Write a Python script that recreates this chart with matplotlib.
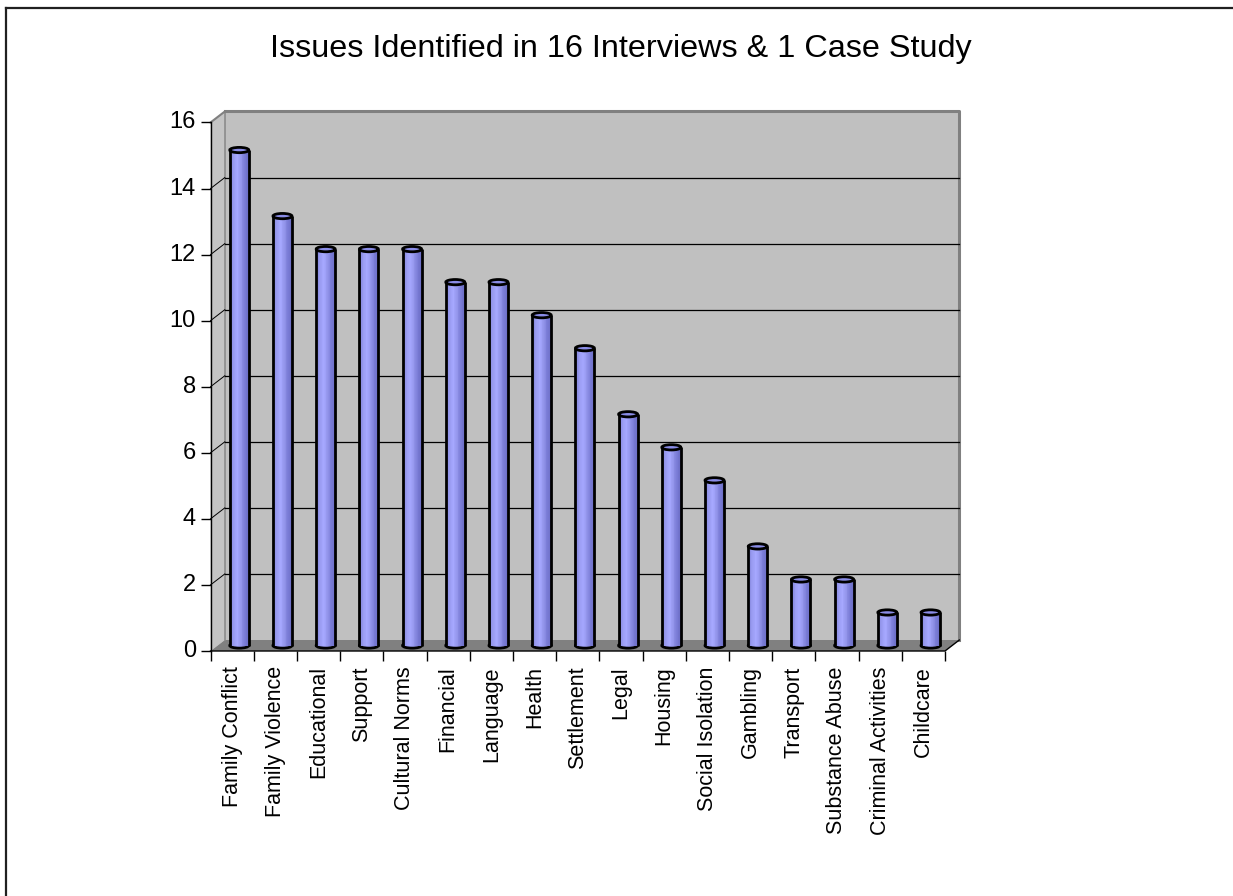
import matplotlib
matplotlib.use("Agg")
import matplotlib.pyplot as plt
import numpy as np
from matplotlib.patches import Polygon, Ellipse, Rectangle
from matplotlib.lines import Line2D
from matplotlib.colors import LinearSegmentedColormap

plt.rcParams['font.family'] = ['Liberation Sans', 'DejaVu Sans']

title = "Issues Identified in 16 Interviews & 1 Case Study"
categories = ["Family Conflict", "Family Violence", "Educational", "Support",
              "Cultural Norms", "Financial", "Language", "Health", "Settlement",
              "Legal", "Housing", "Social Isolation", "Gambling", "Transport",
              "Substance Abuse", "Criminal Activities", "Childcare"]
values = [15, 13, 12, 12, 12, 11, 11, 10, 9, 7, 6, 5, 3, 2, 2, 1, 1]
yticks = [0, 2, 4, 6, 8, 10, 12, 14, 16]

W, H = 1233, 896
fig = plt.figure(figsize=(W / 100, H / 100), dpi=100)
fig.patch.set_facecolor('white')

# front plot box in pixels
x0p, x1p = 210.5, 945.0
y0p, y1p = 651.0, 122.5
ax = fig.add_axes([x0p / W, 1 - y0p / H, (x1p - x0p) / W, (y0p - y1p) / H])
n = len(categories)
ymax = yticks[-1]
ax.set_xlim(0, n)
ax.set_ylim(0, ymax)
ax.axis('off')

# depth offset in data units
dx = 14.3 / ((x1p - x0p) / n)
dy = 11.0 / ((y0p - y1p) / ymax)

wall = '#c0c0c0'
edge = '#808080'
# back wall
ax.add_patch(Polygon([(dx, dy), (n + dx, dy), (n + dx, ymax + dy), (dx, ymax + dy)],
                     closed=True, fc=wall, ec='none', zorder=1, clip_on=False))
# left wall
ax.add_patch(Polygon([(0, 0), (dx, dy), (dx, ymax + dy), (0, ymax)],
                     closed=True, fc='#c4c4c4', ec='none', zorder=1, clip_on=False))
# floor
ax.add_patch(Polygon([(0, 0), (n, 0), (n + dx, dy), (dx, dy)],
                     closed=True, fc='#808080', ec='none', zorder=1.5, clip_on=False))
# wall edges
ax.plot([dx, n + dx, n + dx], [ymax + dy, ymax + dy, dy], color=edge, lw=2.2,
        zorder=2, clip_on=False, solid_capstyle='projecting')
ax.plot([dx, dx], [dy, ymax + dy], color='#8a8a8a', lw=1.2, zorder=1.6, clip_on=False)
ax.plot([0, dx], [ymax, ymax + dy], color=edge, lw=1.5, zorder=2, clip_on=False)

# gridlines
for t in yticks[1:]:
    if t == ymax:
        continue
    ax.plot([dx, n + dx], [t + dy, t + dy], color='black', lw=0.9, zorder=2, clip_on=False)
    ax.plot([0, dx], [t, t + dy], color='black', lw=0.7, zorder=2, clip_on=False)

# axes lines
ax.plot([0, 0], [0, ymax], color='black', lw=1.0, zorder=5, clip_on=False)
ax.plot([0, n, n + dx], [0, 0, dy], color='black', lw=1.0, zorder=5, clip_on=False)

# y ticks & labels
for t in yticks:
    ax.add_line(Line2D([0], [t], color='black', lw=0, clip_on=False,
                       marker=0, markersize=7.5, markeredgewidth=1.0, zorder=5))
    ax.annotate(str(t), xy=(0, t), xytext=(-10.5, 0), textcoords='offset points',
                ha='right', va='center', fontsize=17, color='black')

# x ticks
for i in range(n + 1):
    ax.add_line(Line2D([i], [0], color='black', lw=0, marker=3, markersize=7,
                       markeredgewidth=1.0, clip_on=False, zorder=5))

# category labels
for i, c in enumerate(categories):
    ax.annotate(c, xy=(i + 0.5, 0), xytext=(0, -11), textcoords='offset points',
                rotation=90, ha='center', va='top', fontsize=15.5, color='black')

# cylinders
cmap = LinearSegmentedColormap.from_list(
    'cyl', ['#8486dc', '#9a9cf2', '#a6a8ff', '#9496ec', '#7a7cd6', '#6c6ec6'])
bw = 19.0 / ((x1p - x0p) / n)
eh = 0.16
nstrip = 24
for i, v in enumerate(values):
    cx = i + 0.5 + dx / 2
    yb = dy / 2
    yt = v + dy / 2
    left = cx - bw / 2
    ax.add_patch(Ellipse((cx, yb), bw, eh, fc=cmap(0.5), ec='black', lw=2.0, zorder=3))
    for k in range(nstrip):
        ax.add_patch(Rectangle((left + k * bw / nstrip, yb), bw / nstrip * 1.05, yt - yb,
                               fc=cmap(k / (nstrip - 1)), ec='none', lw=0, zorder=3.1))
    ax.plot([left, left], [yb, yt], color='black', lw=2.0, zorder=3.2, solid_capstyle='butt')
    ax.plot([left + bw, left + bw], [yb, yt], color='black', lw=2.0, zorder=3.2,
            solid_capstyle='butt')
    ax.add_patch(Ellipse((cx, yt), bw, eh, fc='#8a8ce6', ec='black', lw=2.0, zorder=3.3))

# title
fig.text(621 / W, 1 - 57 / H, title, ha='center', va='baseline', fontsize=23.3, color='black')

# outer frame (left and top visible)
fig.add_artist(Line2D([6 / W, 6 / W], [1 - 8.5 / H, 0], transform=fig.transFigure,
                      color='#202020', lw=1.6))
fig.add_artist(Line2D([6 / W, 1], [1 - 8.5 / H, 1 - 8.5 / H], transform=fig.transFigure,
                      color='#202020', lw=1.6))

fig.savefig('out.png', dpi=100)
